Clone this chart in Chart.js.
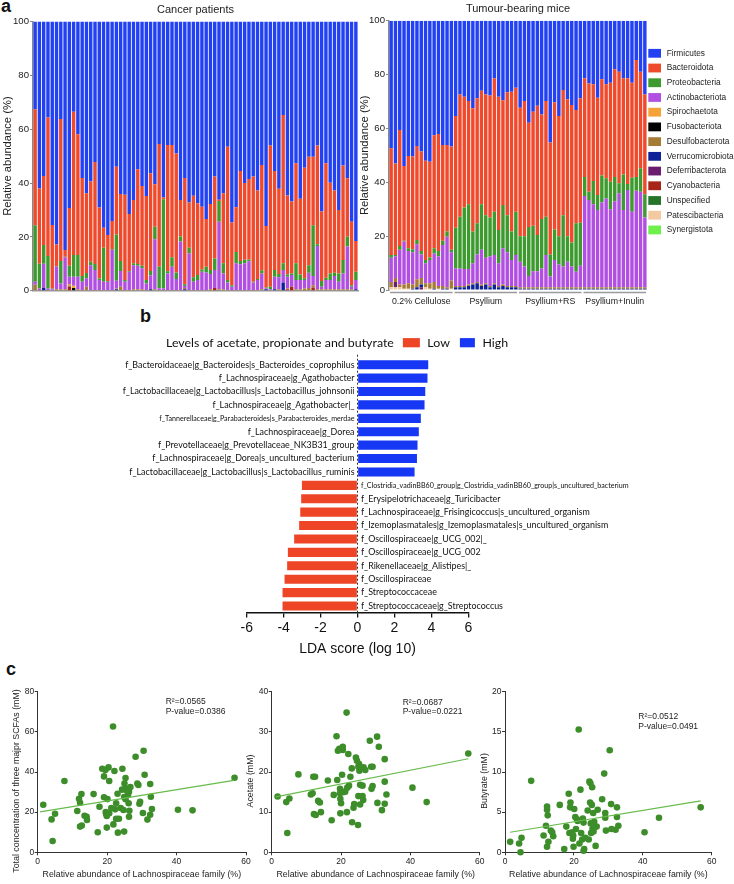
<!DOCTYPE html>
<html>
<head>
<meta charset="utf-8">
<script src="https://cdn.jsdelivr.net/npm/chart.js@4.4.1/dist/chart.umd.min.js"></script>
<style>
  body { margin: 0; width: 734px; height: 884px; position: relative; background: #fff; overflow: hidden;
         font-family: "Liberation Sans", Arial, sans-serif; }
  .box { position: absolute; }
  .tag { position: absolute; font-weight: bold; font-size: 18px; line-height: 18px; color: #111; }
</style>
</head>
<body>
<div class="tag" style="left:1px;top:-3.5px">a</div>
<div class="tag" style="left:140px;top:307px">b</div>
<div class="tag" style="left:6px;top:659.7px">c</div>

<div class="box" style="left:0;top:0;width:362px;height:300px"><canvas id="cancer"></canvas></div>
<div class="box" style="left:357px;top:0;width:377px;height:312px"><canvas id="mice"></canvas></div>
<div class="box" style="left:100px;top:330px;width:560px;height:335px"><canvas id="lda"></canvas></div>
<div class="box" style="left:0;top:680px;width:256px;height:204px"><canvas id="scTotal"></canvas></div>
<div class="box" style="left:234px;top:680px;width:256px;height:204px"><canvas id="scAcetate"></canvas></div>
<div class="box" style="left:467px;top:680px;width:267px;height:204px"><canvas id="scButyrate"></canvas></div>

<script>
// ---- panel a: phyla ----
const phyla = ['Firmicutes', 'Bacteroidota', 'Proteobacteria', 'Actinobacteriota', 'Spirochaetota',
  'Fusobacteriota', 'Desulfobacterota', 'Verrucomicrobiota', 'Deferribacterota', 'Cyanobacteria',
  'Unspecified', 'Patescibacteria', 'Synergistota'];
const phylaColors = ['#2141f2', '#ef4a2c', '#3d9a2e', '#b24fe3', '#f5a236', '#000000', '#a57c35',
  '#0c2296', '#6b1c6e', '#a82318', '#26732a', '#f2c9a0', '#6ef04a'];
const abundanceTicks = [0, 20, 40, 60, 80, 100];

// cancer patients, 76 samples (%)
const cpFirmicutes = [32.6,62,57.4,35.7,75.6,82.8,36.2,84.9,69.3,33.5,
  41.9,58.1,63.8,59.4,52.2,69.1,76.6,79.3,74.1,54,
  64.1,64.4,71.5,66.3,54.9,61.1,64.8,56.4,60.5,45.5,
  65.4,45.9,45.9,49,66.3,58.1,67.2,64.7,67.5,68.8,
  73.4,67.8,57.6,66.2,63.8,46.5,74.7,69,55.5,60,
  58.5,57.6,62.8,53.3,76,46.1,55.5,62.1,34.7,64.6,
  66.9,52.7,65.8,54.3,50.2,50.2,46.1,70.6,52.7,59.9,
  62.8,70,53.5,58.2,74.4,81.5];
const cpBacteroidota = [43.1,28,25.6,51.4,23.6,8,52.8,2.5,21.4,53.2,
  44.8,36.4,29.6,29.8,37.9,26.4,7.4,17.1,10.4,25.1,
  24.9,31.6,21.2,23.5,35.2,29.6,31.2,36.3,15.7,45.6,
  0.6,46.9,41.7,44.2,13.6,39.5,16.8,30.3,26.7,23.3,
  17.7,24.5,30.4,0.5,26,49.5,23.3,16.6,33.5,28.5,
  29.9,39.1,32.9,39.1,22.8,52.4,36.8,31.7,55.1,29.4,
  26.7,37.1,28.2,41.1,40.3,25.5,36.6,25.8,42.5,33.7,
  30.5,23.6,35.1,21.8,23.6,11.5];
const cpProteobacteria = [21,9.2,7,12.1,0.3,0.2,8.3,0.2,4.1,8.1,
  8.1,2.2,2,1.3,2.2,0.5,12.7,0.3,0.3,17.2,
  3.7,0.7,0.3,0.7,0.6,1,1.3,1.7,4.7,8,
  33.1,0.8,3.5,2.5,1.8,0.7,2.1,1.7,1.8,0.9,
  2.1,1.5,4.3,7.7,3.8,1,0.5,4.2,1.2,1.3,
  0.7,0.3,0.3,1.2,0.3,1,2.5,1.2,2.5,0.8,
  0.6,6.2,2,0.6,2.8,18.8,0.7,2.1,0.8,2.4,
  1.2,3.1,5,3.6,0.5,3];
const cpActinobacteriota = [1.1,0.5,9,0.5,0.3,8.5,2.2,11.9,2.7,3.4,
  4.7,3,3.1,9.2,7.4,3.7,3,3,14.9,2.9,
  5.8,3,6.7,9,8.8,7.8,2.4,5.1,18.6,0.6,
  0.6,6.1,8.6,4,18,0.7,13.6,3,3.7,6.7,
  6.5,5.7,6.7,25.1,5.9,2.7,1.2,9.9,9.5,9.9,
  10.6,2.7,3.7,5.9,0.4,0.2,4.7,4.5,4.7,4.4,
  4.3,3.5,3.5,3.2,5.7,3.5,16.1,1,3.5,3.5,
  5,2.8,5.9,15.9,1,3.5];
const cpSpirochaetota = [0,0,0,0,0,0,0,0,0.5,0.8];
const cpFusobacteriota = [0,0,0,0,0,0,0,0,0,1];
const cpDesulfobacterota = [2.2,0.3,0,0.3,0.2,0.5,0.5,0.5,0.5,0,
  0.5,0.3,1.5,0.3,0.3,0.3,0.3,0.3,0.3,0.3,
  1.5,0.3,0.3,0.5,0.5,0.5,0.3,0,0.5,0.3,
  0.3,0.3,0.3,0.3,0.3,0.5,0.3,0.3,0.3,0.3,
  0.3,0.5,0,0.5,0.5,0.3,0.3,0.3,0.3,0.3,
  0.3,0.3,0.3,0.5,0,0.3,0,0.5,0,0.3,
  0,0.5,0.5,0.8,1,0.8,0.5,0.5,0.5,0.5,
  0.5,0.5,0.5,0.5,0.5,0];
const cpVerrucomicrobiota = [0,0,1,0,0,0,0,0,0,0,
  0,0,0,0,0,0,0,0,0,0.5,
  0,0,0,0,0,0,0,0.5,0,0,
  0,0,0,0,0,0.5,0,0,0,0,
  0,0,0,0,0,0,0,0,0,0,
  0,0,0,0,0.5,0,0.5,0,3,0,
  0,0,0,0,0,0,0,0,0,0,
  0,0,0,0,0,0.5];
const cpCyanobacteria = [0,0,0,0,0,0,0,0,1.5,0,
  0,0,0,0,0,0,0,0,0,0,
  0,0,0,0,0,0,0,0,0,0,
  0,0,0,0,0,0,0,0,0,0,
  0,0,1,0,0,0,0,0,0,0,
  0,0,0,0,0,0,0,0,0,0.5,
  1.5,0,0,0,0,1.2];

// tumour-bearing mice, 60 samples (%)
const mGroups = ['0.2% Cellulose', 'Psyllium', 'Psyllium+RS', 'Psyllium+Inulin'];
const mGroupSizes = [15, 15, 15, 15];
const mFirmicutes = [47.4,53,40.6,54,50.2,50.4,46.5,48.6,52,52.4,42.5,42.1,46.2,46.2,46.7,
  35.4,27.4,28.2,29.8,32.5,28.8,26,27.4,27.8,21.4,28.2,29.5,26.6,26.4,24.9,
  32.3,29.8,37.9,33.8,31.6,34.8,29.8,45.2,30.3,35.4,25.7,29.2,31.3,33.2,28.8,
  21.4,23.3,23.6,28.6,21.7,23.6,23,18,19,21.4,21.4,23,14.6,19,27.4];
const mBacteroidota = [39.6,34,43.1,27.7,34.3,34.5,34.9,36.9,36.9,35.5,42,43.4,35.5,32.1,38.4,
  41.5,45.4,41.2,38.4,45.8,46.4,42.2,44.8,45.3,49.5,49.5,38.9,45.6,51.9,46,
  47.7,50.2,38.7,42.3,48,38.8,43,41.6,47.2,44.6,46.5,50.8,51.1,42,46.2,
  36.6,40.2,35.9,36.1,35.8,34.9,36.8,40,41.4,35.7,39.2,35.3,43.4,35.8,37];
const mProteobacteria = [1,0.5,1.4,0.3,1,1.1,1.6,1.3,1.2,1,1.9,2.1,1.6,1.9,0.9,
  15.1,19.2,22.8,24,11.8,11.6,16.9,15.8,14.5,16.1,12.4,16.1,13.8,10.6,16.1,
  9.5,11.3,18.2,16.9,13.4,18.4,14.2,8.2,11.4,10.5,19.1,9.5,8.9,18,16,
  7.1,3.1,8.7,5.6,10,7.5,10.2,9,3.7,13.2,2.3,12.6,5.1,8.7,8.7];
const mActinobacteriota = [9,8,12.9,16,12,12,13,8.7,7.4,8.6,10.6,10.9,15.2,18.8,10.5,
  6.5,6.5,6.3,5.8,7.4,10.2,12.9,9.5,10.9,10.5,8.4,13.5,12.5,9.6,11.5,
  9.5,7.7,4.2,6,6,7,12,4,10.1,8.5,7.7,9.5,7.7,5.8,8,
  33.9,32.4,30.8,28.7,31.5,33,29,32,34.9,28.7,36.1,28.1,35.9,35.5,25.9];
const mDesulfobacterota = [2,1.5,1,1.5,2,1.5,3,2.5,1.5,2,2.5,1,1,0.5,3,
  0.5,0.5,0.5,0.5,0.5,0.5,0.5,0.5,0.5,0.5,0.5,0.5,0.5,0.5,0.5,
  0.5,0.5,0.5,0.5,0.5,0.5,0.5,0.5,0.5,0.5,0.5,0.5,0.5,0.5,0.5,
  0.5,0.5,0.5,0.5,0.5,0.5,0.5,0.5,0.5,0.5,0.5,0.5,0.5,0.5,0.5];
const mVerrucomicrobiota = [0,0,0,0,0,0.5,1,1,0,0,0.5,0,0.5,0.5,0,
  1,1,1,1.5,2,2.5,1.5,2,1,2,1,1.5,1,1,1,
  0.5,0.5,0.5,0.5,0.5,0.5,0.5,0.5,0.5,0.5,0.5,0.5,0.5,0.5,0.5,
  0.5,0.5,0.5,0.5,0.5,0.5,0.5,0.5,0.5,0.5,0.5,0.5,0.5,0.5,0.5];
const mDeferribacterota = [0,2,0,0,0,0,0,1];
const mPatescibacteria = [1,1,1,0.5,0.5,0,0,0,1,0.5,0,0.5,0,0,0.5];

// ---- panel b: LEfSe ----
const highTaxa = [
  'f_Bacteroidaceae|g_Bacteroides|s_Bacteroides_coprophilus',
  'f_Lachnospiraceae|g_Agathobacter',
  'f_Lactobacillaceae|g_Lactobacillus|s_Lactobacillus_johnsonii',
  'f_Lachnospiraceae|g_Agathobacter|_',
  'f_Tannerellaceae|g_Parabacteroides|s_Parabacteroides_merdae',
  'f_Lachnospiraceae|g_Dorea',
  'f_Prevotellaceae|g_Prevotellaceae_NK3B31_group',
  'f_Lachnospiraceae|g_Dorea|s_uncultured_bacterium',
  'f_Lactobacillaceae|g_Lactobacillus|s_Lactobacillus_ruminis'];
const highLDA = [3.83, 3.79, 3.67, 3.63, 3.43, 3.32, 3.25, 3.22, 3.09];
const lowTaxa = [
  'f_Clostridia_vadinBB60_group|g_Clostridia_vadinBB60_group|s_uncultured_bacterium',
  'f_Erysipelotrichaceae|g_Turicibacter',
  'f_Lachnospiraceae|g_Frisingicoccus|s_uncultured_organism',
  'f_Izemoplasmatales|g_Izemoplasmatales|s_uncultured_organism',
  'f_Oscillospiraceae|g_UCG_002|_',
  'f_Oscillospiraceae|g_UCG_002',
  'f_Rikenellaceae|g_Alistipes|_',
  'f_Oscillospiraceae',
  'f_Streptococcaceae',
  'f_Streptococcaceae|g_Streptococcus'];
const lowLDA = [-3.01, -3.05, -3.1, -3.16, -3.43, -3.77, -3.81, -3.95, -4.06, -4.06];
const ldaTicks = [-6, -4, -2, 0, 2, 4, 6];

// ---- panel c: correlations ----
const lachTicks = [0, 20, 40, 60];
const totX = [1.6,4,4.3,5,7.7,11.4,11.9,12.2,12.6,12.2,12.7,13.5,14.1,14.2,16.1,17.3,17.8,18.6,19.1,19.1,
  19.5,19.6,19.7,19.9,19.9,20.1,20.4,20.6,20.6,21.2,21.7,21.8,22.1,22.3,22.6,22.6,23,23.1,23.4,23.9,
  24.3,24.4,24.7,24.9,25,25.3,25.3,24.9,25.3,25.7,26,26.2,26.3,26.4,26.3,26.7,28.2,28.7,29,29.3,
  29.5,30.3,30.5,30.8,31.6,32.4,32.4,32.6,32.9,40.4,44.6,56.7];
const totY = [23.7,16.4,5.6,19.2,35.5,20.6,26.7,24.7,29,12.8,13.3,18.2,17.7,16.1,29,10,22.7,41.6,37.8,27.4,
  41,20.1,19.1,18.1,12.3,26.5,42.3,35.5,19.4,22.1,62.7,13.9,40.5,21.4,24.4,16.7,29.2,9.8,16.7,22.1,
  31.2,41.6,21.1,10.3,34.3,37,31.8,27.5,26.4,30.7,28.5,24.4,17.7,20.7,30.2,32.5,47.6,34.3,33.5,24.2,
  25.2,19.6,50.6,38.6,16.3,34,18.7,27.7,21.6,21.2,20.9,37.1];
const totFitX = [0.7, 56.5];
const totFitY = [20.1, 35.8];
const totTicks = [0, 20, 40, 60, 80];

const aceX = [1.7,4.2,4.5,5.1,7.7,11.3,11.8,12,12.5,12.2,12.7,13.4,13.9,14.2,16.2,17.3,17.9,18.7,18.9,19.1,
  19.5,19.7,19.7,19.8,19.8,20,20.3,20.5,20.5,20.8,21.2,21.6,21.7,21.8,22.1,22.3,22.7,23.1,23.2,23.6,
  23.8,24.3,24.6,24.9,25,25,25.2,25.3,25.5,25.5,25.8,26.2,26.4,26.2,26.5,27,28.3,28.7,28.8,29.1,
  29.1,30.4,30.5,30.9,31.8,32.6,32.6,32.6,33.1,40.6,44.7,56.7];
const aceY = [13.9,12.5,4.8,13.4,19.4,14.4,14.7,18.8,18.8,9.5,9.3,12.8,12.4,10,17.9,8,14.3,28.9,18,25.3,
  25.8,15.8,14.7,13.3,9.7,12.2,19.3,26.3,25.5,15,15.1,34.8,10,16.1,24.5,16.6,18.8,20.9,7.5,11.1,
  12,23.6,22.8,6.8,14,21.3,22,20.3,16.8,11.9,21,16.6,13,14,21.2,20.5,27.8,21.3,15.8,16.5,
  21.3,28.8,12.3,26.3,10.5,23.2,17.6,12.1,14.4,16.1,12.5,24.6];
const aceFitX = [1.2, 56.7];
const aceFitY = [13.8, 23.3];
const aceTicks = [0, 10, 20, 30, 40];

const butX = [1.5,4.1,4.5,4.8,7.6,11.2,11.9,12.2,12.2,12.4,12.2,12.6,13.3,13.7,14,15.9,17.2,17.8,18.5,18.7,
  18.9,19,19.5,19.7,19.8,19.9,20.1,20.4,20.6,20.9,21.1,21.4,21.6,21.9,22.1,22.4,22.6,22.8,22.8,23,
  23.3,24,24.3,24.5,24.7,24.8,24.9,25,25.2,25.3,25.4,25.6,25.7,25.7,25.9,26.3,26.6,26.9,28.2,28.8,
  29.1,29.1,29.3,30.4,30.8,30.9,32.1,32.5,32.5,32.9,40.5,44.7,56.8];
const butY = [1.3,1.1,0,1.8,8.9,2.1,3.3,5.7,5.3,4.6,0.7,1.3,2.7,2.5,2,5.9,0.4,3.2,7.3,2.4,
  5.6,6.2,2.5,1.7,2.1,0.7,5.4,4.4,2.9,4.1,3.9,15.3,1.1,7.8,2.4,1.6,4.2,3.7,0.2,0.4,
  1.8,5.2,1.6,8.8,6.2,8.6,3.6,2.4,5.9,8.1,2.9,4.9,3.4,2.6,3.8,0.8,3.2,5.3,6.6,9.8,
  4.9,4.3,2.7,12.7,6,2.9,2.8,5.6,4.4,3.3,2.5,4.3,5.6];
const butFitX = [1.5, 56.8];
const butFitY = [2.5, 6.4];
const butTicks = [0, 5, 10, 15, 20];

// ---------------------------------------------------------------
Chart.defaults.font.family = '"Liberation Sans", Arial, sans-serif';
Chart.defaults.color = '#222';
Chart.defaults.animation = false;
Chart.defaults.maintainAspectRatio = false;
Chart.defaults.plugins.legend.display = false;
Chart.defaults.plugins.tooltip.enabled = false;

const fixTicks = arr => scale => { scale.ticks = arr.map(v => ({ value: v })); };

function stackSets(series) {
  // first dataset sits at the bottom of the stack
  return phyla.map((name, i) => ({ name, i })).reverse()
    .filter(p => series[p.name])
    .map(p => ({
      label: p.name, data: series[p.name], backgroundColor: phylaColors[p.i],
      borderWidth: 0, barPercentage: 0.8, categoryPercentage: 1
    }));
}

function abundanceY(titlePad, width) {
  return {
    stacked: true, min: 0, max: 100,
    afterBuildTicks: fixTicks(abundanceTicks),
    ticks: { font: { size: 9.6 }, color: '#222', padding: 1 },
    grid: { drawOnChartArea: false, tickLength: 3, color: '#888' },
    border: { color: '#888', width: 1.5 },
    title: { display: true, text: 'Relative abundance (%)', font: { size: 11.2 }, color: '#222',
             padding: { top: titlePad, bottom: 0 } },
    afterFit: s => { s.width = width; }
  };
}

// cancer patients
new Chart(document.getElementById('cancer'), {
  type: 'bar',
  data: {
    labels: cpFirmicutes.map((_, i) => 'P' + (i + 1)),
    datasets: stackSets({
      Firmicutes: cpFirmicutes, Bacteroidota: cpBacteroidota, Proteobacteria: cpProteobacteria,
      Actinobacteriota: cpActinobacteriota, Spirochaetota: cpSpirochaetota, Fusobacteriota: cpFusobacteriota,
      Desulfobacterota: cpDesulfobacterota, Verrucomicrobiota: cpVerrucomicrobiota, Cyanobacteria: cpCyanobacteria
    })
  },
  options: {
    layout: { padding: { top: 0, right: 4, bottom: 9.3, left: 0 } },
    plugins: {
      title: { display: true, text: 'Cancer patients', fullSize: false, color: '#222',
               font: { size: 11, weight: 'normal' }, padding: { top: 3, bottom: 5.3 } }
    },
    scales: {
      x: { stacked: true, ticks: { display: false }, grid: { display: false, drawTicks: false },
           border: { color: '#999', width: 1.5 }, afterFit: s => { s.height = 0; } },
      y: abundanceY(1, 33)
    }
  }
});

// mice: legend on the right and group brackets under the bars
const sideLegend = {
  id: 'sideLegend',
  afterDraw(chart) {
    const ctx = chart.ctx, x0 = chart.chartArea.right + 1.3;
    ctx.save();
    ctx.font = '8.3px "Liberation Sans", Arial, sans-serif';
    ctx.textBaseline = 'middle';
    phyla.forEach((name, i) => {
      const y = 53.3 + i * 14.72;
      ctx.fillStyle = phylaColors[i];
      ctx.fillRect(x0, y - 4.4, 12.7, 8.8);
      ctx.fillStyle = '#222';
      ctx.fillText(name, x0 + 18.4, y);
    });
    ctx.restore();
  }
};
const groupBrackets = {
  id: 'groupBrackets',
  afterDraw(chart) {
    const ctx = chart.ctx, xs = chart.scales.x;
    const half = xs.width / xs.getLabels().length / 2, y = chart.chartArea.bottom + 2.5;
    ctx.save();
    ctx.strokeStyle = '#9a9a9a';
    ctx.lineWidth = 1.5;
    let start = 0;
    mGroupSizes.forEach(n => {
      ctx.beginPath();
      ctx.moveTo(xs.getPixelForValue(start) - half + 1, y);
      ctx.lineTo(xs.getPixelForValue(start + n - 1) + half - 1, y);
      ctx.stroke();
      start += n;
    });
    ctx.restore();
  }
};
const groupLabelAt = {};
mGroupSizes.reduce((start, n, g) => { groupLabelAt[start + Math.floor(n / 2)] = mGroups[g]; return start + n; }, 0);

new Chart(document.getElementById('mice'), {
  type: 'bar',
  data: {
    labels: mFirmicutes.map((_, i) => 'M' + (i + 1)),
    datasets: stackSets({
      Firmicutes: mFirmicutes, Bacteroidota: mBacteroidota, Proteobacteria: mProteobacteria,
      Actinobacteriota: mActinobacteriota, Desulfobacterota: mDesulfobacterota,
      Verrucomicrobiota: mVerrucomicrobiota, Deferribacterota: mDeferribacterota,
      Patescibacteria: mPatescibacteria
    })
  },
  options: {
    layout: { padding: { top: 0, right: 87, bottom: 0, left: 0 } },
    plugins: {
      title: { display: true, text: 'Tumour-bearing mice', fullSize: false, color: '#222',
               font: { size: 11, weight: 'normal' }, padding: { top: 2.5, bottom: 5 } }
    },
    scales: {
      x: { stacked: true, grid: { display: false, drawTicks: false }, border: { display: false },
           ticks: { autoSkip: false, maxRotation: 0, font: { size: 8.8 }, color: '#222', padding: 6.4,
                    callback: (v, i) => groupLabelAt[i] || '' },
           afterFit: s => { s.height = 22; } },
      y: abundanceY(1.3, 32)
    }
  },
  plugins: [sideLegend, groupBrackets]
});

// ---- panel b ----
const ldaTaxa = highTaxa.concat(lowTaxa);
const smallLabel = new Set([highTaxa[4], lowTaxa[0]]);
const ldaDecor = {
  id: 'ldaDecor',
  beforeDatasetsDraw(chart) {
    const { ctx, chartArea } = chart, x0 = chart.scales.x.getPixelForValue(0);
    ctx.save();
    ctx.strokeStyle = '#333';
    ctx.lineWidth = 1;
    ctx.setLineDash([2, 2]);
    ctx.beginPath();
    ctx.moveTo(x0, chartArea.top - 3.3);
    ctx.lineTo(x0, chartArea.bottom);
    ctx.stroke();
    ctx.restore();
  },
  afterDraw(chart) {
    const ctx = chart.ctx, xs = chart.scales.x, ys = chart.scales.y, x0 = xs.getPixelForValue(0);
    const fam = 'Lato, "Open Sans", sans-serif';
    ctx.save();
    ctx.font = '10px ' + fam;
    const size = 10 * 136 / ctx.measureText('f_Lachnospiraceae|g_Agathobacter').width;
    ctx.textBaseline = 'middle';
    ctx.fillStyle = '#111';
    ldaTaxa.forEach((name, i) => {
      const high = i < highTaxa.length;
      ctx.font = (smallLabel.has(name) ? size * 0.8 : size) + 'px ' + fam;
      ctx.textAlign = high ? 'right' : 'left';
      ctx.fillText(name, high ? x0 - 3 : x0 + 3.5, ys.getPixelForValue(i));
    });
    // heading + legend
    const head = 'Levels of acetate, propionate and butyrate';
    ctx.font = '10px ' + fam;
    const hs = 10 * 228 / ctx.measureText(head).width;
    ctx.font = hs + 'px ' + fam;
    ctx.textAlign = 'left';
    let x = 66;
    const y = 12.7;
    ctx.fillText(head, x, y);
    x += ctx.measureText(head).width + 9;
    chart.data.datasets.forEach((ds, k) => {
      const w = k === 0 ? 17 : 15;
      ctx.fillStyle = ds.backgroundColor;
      ctx.fillRect(x, y - 4.6, w, 9.2);
      x += w + 7.5;
      ctx.fillStyle = '#111';
      ctx.fillText(ds.label, x, y);
      x += ctx.measureText(ds.label).width + 10;
    });
    ctx.restore();
  }
};

new Chart(document.getElementById('lda'), {
  type: 'bar',
  data: {
    labels: ldaTaxa,
    datasets: [
      { label: 'Low', data: highTaxa.map(() => null).concat(lowLDA), backgroundColor: '#ee4526' },
      { label: 'High', data: highLDA.concat(lowTaxa.map(() => null)), backgroundColor: '#1638f4' }
    ]
  },
  options: {
    indexAxis: 'y',
    layout: { padding: { top: 28, right: 191.7, bottom: 0, left: 146.7 } },
    datasets: { bar: { grouped: false, barPercentage: 0.68, categoryPercentage: 1, borderWidth: 0 } },
    scales: {
      y: { display: false },
      x: {
        min: -6, max: 6,
        afterBuildTicks: fixTicks(ldaTicks),
        ticks: { font: { size: 14 }, color: '#111', padding: 2 },
        grid: { drawOnChartArea: false, tickLength: 4.7, color: '#111', lineWidth: 1.3 },
        border: { color: '#111', width: 1.5 },
        title: { display: true, text: 'LDA score (log 10)', font: { size: 14 }, color: '#111',
                 padding: { top: 0, bottom: 7.6 } },
        afterFit: s => { s.height = 52.3; }
      }
    }
  },
  plugins: [ldaDecor]
});

// ---- panel c ----
function scatterChart(id, xs, ys, fitX, fitY, yMax, yTicks, yTitle, stats, statX, statY, yTitleX) {
  const decor = {
    id: 'scDecor',
    afterDraw(chart) {
      const ctx = chart.ctx;
      ctx.save();
      ctx.fillStyle = '#222';
      ctx.font = '8.5px "Liberation Sans", Arial, sans-serif';
      ctx.textBaseline = 'middle';
      ctx.fillText(stats[0], statX, statY);
      ctx.fillText(stats[1], statX, statY + 9.7);
      // y title drawn without squeezing to the axis height
      ctx.font = '8.8px "Liberation Sans", Arial, sans-serif';
      ctx.textAlign = 'center';
      ctx.translate(yTitleX, 101);
      ctx.rotate(-Math.PI / 2);
      ctx.fillText(yTitle, 0, 0);
      ctx.restore();
    }
  };
  return new Chart(document.getElementById(id), {
    type: 'scatter',
    data: {
      datasets: [
        { type: 'line', data: fitX.map((x, i) => ({ x, y: fitY[i] })), borderColor: '#66bb4b',
          borderWidth: 1.2, pointRadius: 0, fill: false },
        { data: xs.map((x, i) => ({ x, y: ys[i] })), backgroundColor: '#3d8e2a', borderWidth: 0,
          pointRadius: 3.3, clip: false }
      ]
    },
    options: {
      layout: { padding: { top: 11.7, right: chartRightPad[id], bottom: 0, left: 0 } },
      scales: {
        x: {
          type: 'linear', min: 0, max: 60,
          afterBuildTicks: fixTicks(lachTicks),
          ticks: { font: { size: 8.5 }, color: '#222', padding: 1 },
          grid: { drawOnChartArea: false, tickLength: 3, color: '#333' },
          border: { color: '#333', width: 1 },
          title: { display: true, text: 'Relative abundance of Lachnospiraceae family (%)',
                   font: { size: 8.8 }, color: '#222', padding: { top: 0, bottom: 4.5 } },
          afterFit: s => { s.height = 31.7; }
        },
        y: {
          min: 0, max: yMax,
          afterBuildTicks: fixTicks(yTicks),
          ticks: { font: { size: 8.5 }, color: '#222', padding: 0.5 },
          grid: { drawOnChartArea: false, tickLength: 3, color: '#333' },
          border: { color: '#333', width: 1 },
          afterFit: s => { s.width = yAxisWidth[id]; }
        }
      }
    },
    plugins: [decor]
  });
}
const chartRightPad = { scTotal: 10, scAcetate: 10.3, scButyrate: 22.3 };
const yAxisWidth = { scTotal: 37.7, scAcetate: 37.7, scButyrate: 38 };

scatterChart('scTotal', totX, totY, totFitX, totFitY, 80, totTicks,
  'Total concentration of three majpr SCFAs (mM)', ['R²=0.0565', 'P-value=0.0386'], 165.7, 21.7, 16.7);
scatterChart('scAcetate', aceX, aceY, aceFitX, aceFitY, 40, aceTicks,
  'Acetate (mM)', ['R²=0.0687', 'P-value=0.0221'], 168.7, 22.3, 17);
scatterChart('scButyrate', butX, butY, butFitX, butFitY, 20, butTicks,
  'Butyrate (mM)', ['R²=0.0512', 'P-value=0.0491'], 171.3, 36.7, 17.3);
</script>
</body>
</html>
